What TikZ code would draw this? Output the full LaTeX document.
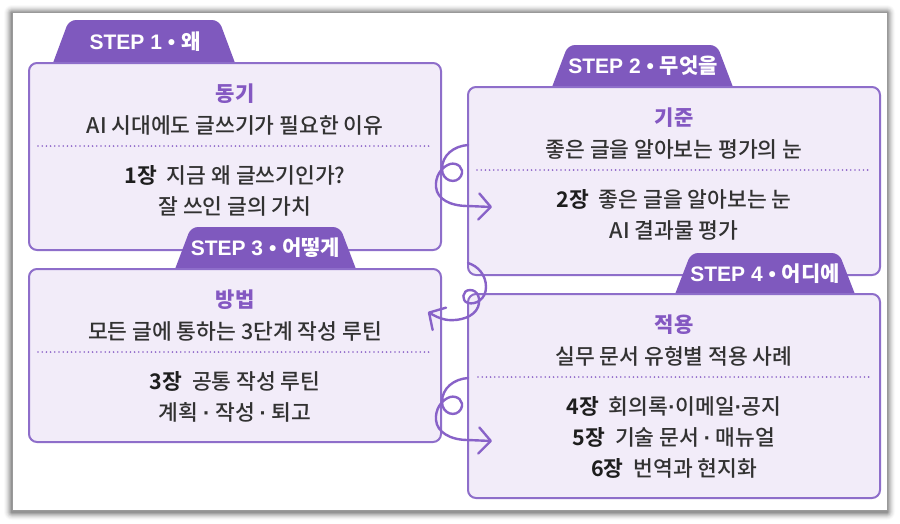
\documentclass[tikz,border=0pt]{standalone}
\usepackage{fontspec}
\setmainfont{Noto Sans CJK KR}
\newfontfamily\bodyfont{Noto Sans CJK KR Medium}
\newfontfamily\hgfont{Noto Sans CJK KR}
\newfontfamily\dotfont{Liberation Sans}
\newfontfamily\tabfont{Liberation Sans}
\usetikzlibrary{calc,arrows.meta}
\definecolor{tabpurple}{RGB}{127,89,190}
\definecolor{boxfill}{RGB}{242,236,249}
\definecolor{boxline}{RGB}{142,110,202}
\definecolor{titlepurple}{RGB}{132,88,194}
\definecolor{bodytext}{RGB}{50,50,50}
\definecolor{chaptext}{RGB}{30,30,30}
\definecolor{conncol}{RGB}{136,98,200}
\definecolor{dotcol}{RGB}{140,100,200}
\tikzset{
  box/.style={draw=boxline, fill=boxfill, line width=2pt, rounded corners=8pt,
    minimum width=412pt, inner sep=0pt, outer sep=0pt},
  tabshape/.style={fill=tabpurple, rounded corners=7pt},
  tablabel/.style={text=white, font=\fontsize{21}{24}\tabfont\bfseries, inner sep=0pt, anchor=base},
  titletext/.style={text=titlepurple, font=\fontsize{21}{24}\selectfont\bfseries, inner sep=0pt, anchor=base},
  bodyline/.style={text=bodytext, font=\fontsize{21.5}{24}\bodyfont, inner sep=0pt, anchor=base},
  sepline/.style={dotcol, line width=1.8pt, line cap=round, dash pattern=on 0pt off 4.2pt},
  conn/.style={conncol, line width=2.4pt, line cap=round, line join=round,
    -{Straight Barb[length=12pt,width=26pt,round]}},
}
\newcommand{\chap}[1]{{\color{chaptext}\fontspec{Noto Sans CJK KR Bold}#1}\hspace{10pt}}
\newcommand{\mdot}{{\dotfont\bfseries ·}}
\newcommand{\bdot}{{\dotfont\bfseries •}}
\newcommand{\hg}[1]{{\hgfont\bfseries #1}}
\begin{document}
\begin{tikzpicture}[x=1pt,y=-1pt]
\useasboundingbox (0,0) rectangle (900,523);
\fill[white] (0,0) rectangle (900,523);
% outer card with shadow
\foreach \i/\o in {1/0.12,2/0.10,3/0.08,4/0.07,5/0.05,6/0.04,7/0.03,8/0.02}
  \fill[black, opacity=\o, rounded corners=\i pt] (12-\i,13-\i) rectangle (887+\i,512+\i);
\draw[fill=white, draw=black!40, line width=0.6pt] (12,12) rectangle (887,510);

% tab 1 and box 1
\fill[tabshape] (50,71) -- (69,20) -- (219,20) -- (238,71) -- cycle;
\node[box, minimum height=187pt] (b1) at (235,156.5) {};
% tab 2 and box 2
\fill[tabshape] (549,95) -- (568,45) -- (717,45) -- (736,95) -- cycle;
\node[box, minimum height=188pt] (b2) at (674,181) {};
% tab 3 and box 3
\fill[tabshape] (172,277) -- (191,227) -- (340,227) -- (359,277) -- cycle;
\node[box, minimum height=173pt] (b3) at (235,355.5) {};
% tab 4 and box 4
\fill[tabshape] (672,302) -- (691,253) -- (839,253) -- (858,302) -- cycle;
\node[box, minimum height=204pt] (b4) at (674,396) {};

% tab labels
\node[tablabel] (s1) at (145,49) {STEP 1 \bdot{} \hg{왜}};
\node[tablabel] (s2) at (643,73.5) {STEP 2 \bdot{} \hg{무엇을}};
\node[tablabel] (s3) at (265.5,255.5) {STEP 3 \bdot{} \hg{어떻게}};
\node[tablabel] (s4) at (765,281) {STEP 4 \bdot{} \hg{어디에}};

% box 1 texts
\node[titletext] (t1) at ($(b1.north)+(0,38)$) {동기};
\node[bodyline] (l1a) at ($(b1.north)+(0,70)$) {AI 시대에도 글쓰기가 필요한 이유};
\draw[sepline] ($(b1.north west)+(9,83)$) -- ($(b1.north east)+(-9,83)$);
\node[bodyline] (l1b) at ($(b1.north)+(0,120)$) {\chap{1장}지금 왜 글쓰기인가?};
\node[bodyline] (l1c) at ($(b1.north)+(0,151)$) {잘 쓰인 글의 가치};

% box 2 texts
\node[titletext] (t2) at ($(b2.north)+(0,38)$) {기준};
\node[bodyline] (l2a) at ($(b2.north)+(0,70)$) {좋은 글을 알아보는 평가의 눈};
\draw[sepline] ($(b2.north west)+(9,83)$) -- ($(b2.north east)+(-9,83)$);
\node[bodyline] (l2b) at ($(b2.north)+(0,120)$) {\chap{2장}좋은 글을 알아보는 눈};
\node[bodyline] (l2c) at ($(b2.north)+(0,151)$) {AI 결과물 평가};

% box 3 texts
\node[titletext] (t3) at ($(b3.north)+(0,38)$) {방법};
\node[bodyline] (l3a) at ($(b3.north)+(0,70)$) {모든 글에 통하는 3단계 작성 루틴};
\draw[sepline] ($(b3.north west)+(9,83)$) -- ($(b3.north east)+(-9,83)$);
\node[bodyline] (l3b) at ($(b3.north)+(0,120)$) {\chap{3장}공통 작성 루틴};
\node[bodyline] (l3c) at ($(b3.north)+(0,151)$) {계획 \mdot{} 작성 \mdot{} 퇴고};

% box 4 texts
\node[titletext] (t4) at ($(b4.north)+(0,38)$) {적용};
\node[bodyline] (l4a) at ($(b4.north)+(0,70)$) {실무 문서 유형별 적용 사례};
\draw[sepline] ($(b4.north west)+(10,83)$) -- ($(b4.north east)+(-10,83)$);
\node[bodyline] (l4b) at ($(b4.north)+(0,120)$) {\chap{4장}회의록\mdot{}이메일\mdot{}공지};
\node[bodyline] (l4c) at ($(b4.north)+(0,151)$) {\chap{5장}기술 문서 \mdot{} 매뉴얼};
\node[bodyline] (l4d) at ($(b4.north)+(0,182)$) {\chap{6장}번역과 현지화};

% connectors
\coordinate (c1) at ($(b2.north west)+(0,58)$);
\coordinate (e1) at ($(c1)+(24,62)$);
\coordinate (c2) at ($(b2.north west)+(0,176)$);
\coordinate (e2) at ($(c2)+(-40,49)$);
\coordinate (c3) at ($(b4.north west)+(0,84)$);
\coordinate (e3) at ($(c3)+(24,63)$);

\begin{scope}[shift={(c1)}]
\draw[conn] (c1) .. controls (-14,1) and (-26,10) .. (-26,24)
  .. controls (-26,36) and (-12,40) .. (-7,31)
  .. controls (-3,23) and (-11,17) .. (-18,19)
  .. controls (-27,22) and (-33,32) .. (-32,42)
  .. controls (-31,54) and (-18,61) .. (0,61) -- (e1);
\end{scope}
\begin{scope}[shift={(c2)}]
\draw[conn] (c2) .. controls (10,3) and (18,12) .. (18,24)
  .. controls (18,36) and (8,42) .. (0,40)
  .. controls (-7,38) and (-6,27) .. (2,27)
  .. controls (10,27) and (13,36) .. (10,44)
  .. controls (6,54) and (-8,58) .. (-20,57)
  .. controls (-28,56) and (-35,52) .. (e2);
\end{scope}
\begin{scope}[shift={(c3)}]
\draw[conn] (c3) .. controls (-14,1) and (-26,10) .. (-26,24)
  .. controls (-26,36) and (-12,40) .. (-7,31)
  .. controls (-3,23) and (-11,17) .. (-18,19)
  .. controls (-27,22) and (-33,32) .. (-32,42)
  .. controls (-31,54) and (-18,62) .. (0,62) -- (e3);
\end{scope}
\end{tikzpicture}
\end{document}
